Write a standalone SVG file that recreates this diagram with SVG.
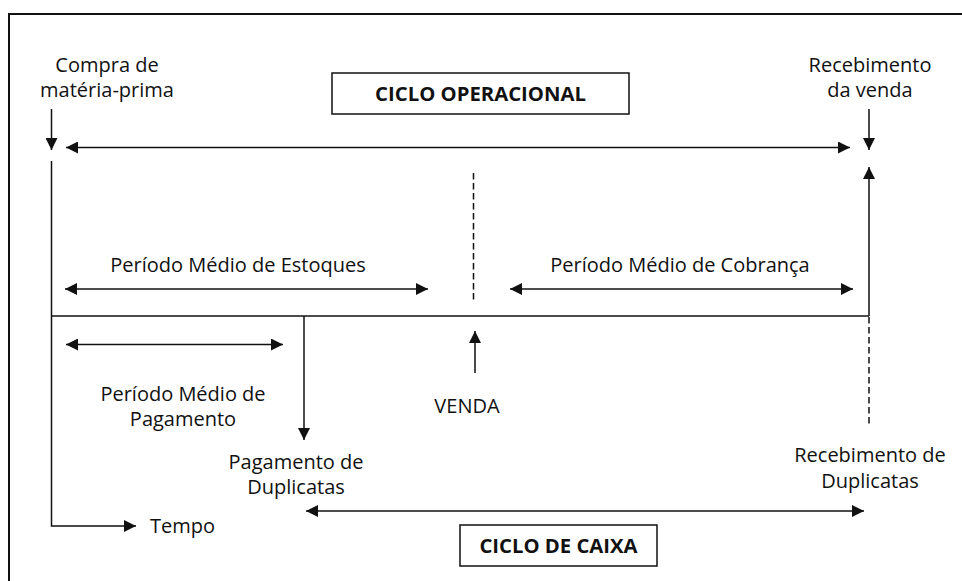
<svg xmlns="http://www.w3.org/2000/svg" width="962" height="581" viewBox="0 0 962 581">
<style>
text{font-family:"Open Sans","Liberation Sans",sans-serif;font-size:20px;fill:#111}
.b{font-weight:bold;font-size:20.3px}
.ln{stroke:#111;stroke-width:1.5;fill:none}
.ar{stroke:#111;stroke-width:1.5;fill:none;marker-end:url(#ah)}
.da{stroke:#111;stroke-width:1.5;fill:none;marker-start:url(#ahs);marker-end:url(#ah)}
.dash{stroke:#111;stroke-width:1.5;fill:none;stroke-dasharray:6.5 3.5}
.box{stroke:#111;stroke-width:1.5;fill:#fff}
</style>
<defs>
<marker id="ah" viewBox="0 0 10 10" refX="10" refY="5" markerUnits="userSpaceOnUse" markerWidth="12" markerHeight="12" orient="auto"><path d="M0,0 L10,5 L0,10 z" fill="#111"/></marker>
<marker id="ahs" viewBox="0 0 10 10" refX="0" refY="5" markerUnits="userSpaceOnUse" markerWidth="12" markerHeight="12" orient="auto"><path d="M10,0 L0,5 L10,10 z" fill="#111"/></marker>
</defs>
<rect width="962" height="581" fill="#fff"/>
<path d="M9,581 V14 H962" stroke="#111" stroke-width="2" fill="none"/>
<g id="connectors">
<line class="ar" x1="51.5" y1="109" x2="51.5" y2="150"/>
<line class="ar" x1="869" y1="109" x2="869" y2="150"/>
<line class="da" x1="66" y1="147.5" x2="850" y2="147.5"/>
<polyline class="ar" points="51.5,161 51.5,526 136,526"/>
<line class="ln" x1="51.5" y1="316" x2="869" y2="316"/>
<line class="ar" x1="869" y1="316" x2="869" y2="167"/>
<line class="dash" x1="869" y1="317" x2="869" y2="424"/>
<line class="dash" x1="473.5" y1="173" x2="473.5" y2="301"/>
<line class="da" x1="65" y1="289" x2="428" y2="289"/>
<line class="da" x1="510" y1="289" x2="853" y2="289"/>
<line class="da" x1="66" y1="344.5" x2="283" y2="344.5"/>
<line class="ar" x1="304" y1="316" x2="304" y2="440"/>
<line class="ar" x1="475" y1="373" x2="475" y2="331"/>
<line class="da" x1="306" y1="511" x2="864" y2="511"/>
</g>
<g id="compra"><text x="107" y="72" text-anchor="middle">Compra de</text><text x="107" y="97" text-anchor="middle">matéria-prima</text></g>
<g id="recebimento-venda"><text x="870" y="72" text-anchor="middle">Recebimento</text><text x="870" y="97" text-anchor="middle">da venda</text></g>
<g id="ciclo-operacional"><rect class="box" x="332" y="73" width="297" height="41"/><text class="b" x="480.5" y="101" text-anchor="middle">CICLO OPERACIONAL</text></g>
<g id="pme"><text x="238" y="272" text-anchor="middle">Período Médio de Estoques</text></g>
<g id="pmc"><text x="680" y="272" text-anchor="middle">Período Médio de Cobrança</text></g>
<g id="pmp"><text x="183" y="401" text-anchor="middle">Período Médio de</text><text x="183" y="426" text-anchor="middle">Pagamento</text></g>
<g id="venda"><text x="467" y="413" text-anchor="middle">VENDA</text></g>
<g id="pagamento"><text x="296" y="469" text-anchor="middle">Pagamento de</text><text x="296" y="494" text-anchor="middle">Duplicatas</text></g>
<g id="recebimento-dup"><text x="870" y="462" text-anchor="middle">Recebimento de</text><text x="870" y="488" text-anchor="middle">Duplicatas</text></g>
<g id="tempo"><text x="150" y="533">Tempo</text></g>
<g id="ciclo-caixa"><rect class="box" x="460" y="525" width="197" height="41"/><text class="b" x="558.5" y="553" text-anchor="middle">CICLO DE CAIXA</text></g>
</svg>
